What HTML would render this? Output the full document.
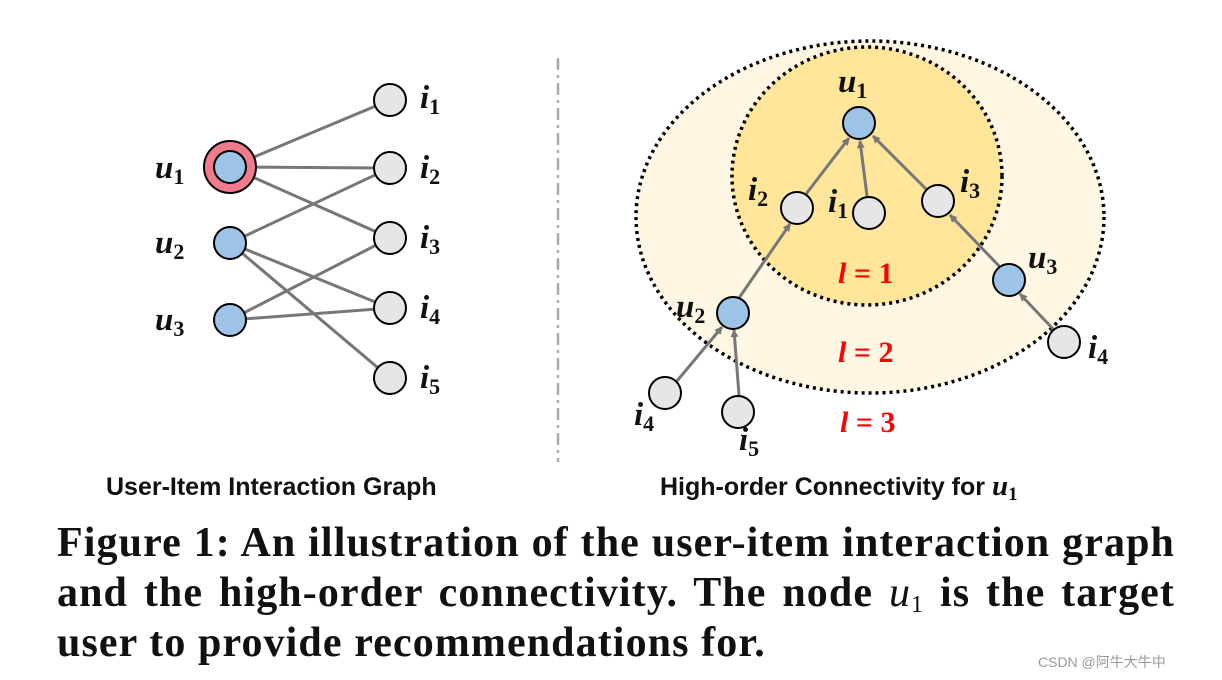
<!DOCTYPE html>
<html><head><meta charset="utf-8"><style>
body{margin:0;background:#fff;width:1222px;height:680px;overflow:hidden;position:relative}
.cap{position:absolute;left:57px;width:1118px;top:518px;font:bold 42px/50px "Liberation Serif",serif;letter-spacing:1.1px;color:#111}
.cap div{text-align:justify;text-align-last:justify;white-space:nowrap;height:50px}
.cap div.l{text-align-last:left}
.wm{position:absolute;left:1038px;top:652px;font:14px "Liberation Sans","Noto Sans CJK SC",sans-serif;color:#999}
</style></head><body>
<svg width="1222" height="520" style="position:absolute;left:0;top:0" font-family="Liberation Serif, serif">
<defs><marker id="a" markerWidth="8" markerHeight="8" refX="7" refY="4" orient="auto" markerUnits="userSpaceOnUse"><path d="M0,0L8,4L0,8z" fill="#777"/></marker></defs>
<g stroke="#777" stroke-width="3">
<line x1="230" y1="167" x2="390" y2="100"/><line x1="230" y1="167" x2="390" y2="168"/><line x1="230" y1="167" x2="390" y2="238"/>
<line x1="230" y1="243" x2="390" y2="168"/><line x1="230" y1="243" x2="390" y2="308"/><line x1="230" y1="243" x2="390" y2="378"/>
<line x1="230" y1="320" x2="390" y2="238"/><line x1="230" y1="320" x2="390" y2="308"/>
</g>
<g stroke="#000" stroke-width="2">
<circle cx="230" cy="167" r="26" fill="#f07b8c"/>
<circle cx="230" cy="167" r="16" fill="#9dc3e6"/><circle cx="230" cy="243" r="16" fill="#9dc3e6"/><circle cx="230" cy="320" r="16" fill="#9dc3e6"/>
<g fill="#e6e6e6"><circle cx="390" cy="100" r="16"/><circle cx="390" cy="168" r="16"/><circle cx="390" cy="238" r="16"/><circle cx="390" cy="308" r="16"/><circle cx="390" cy="378" r="16"/></g>
</g>
<g font-weight="bold" font-style="italic" font-size="33" fill="#111">
<text x="155" y="178">u<tspan font-size="22" font-style="normal" dy="6">1</tspan></text>
<text x="155" y="253">u<tspan font-size="22" font-style="normal" dy="6">2</tspan></text>
<text x="155" y="330">u<tspan font-size="22" font-style="normal" dy="6">3</tspan></text>
<text x="420" y="108">i<tspan font-size="22" font-style="normal" dy="6">1</tspan></text>
<text x="420" y="178">i<tspan font-size="22" font-style="normal" dy="6">2</tspan></text>
<text x="420" y="248">i<tspan font-size="22" font-style="normal" dy="6">3</tspan></text>
<text x="420" y="318">i<tspan font-size="22" font-style="normal" dy="6">4</tspan></text>
<text x="420" y="388">i<tspan font-size="22" font-style="normal" dy="6">5</tspan></text>
</g>
<line x1="558" y1="58" x2="558" y2="462" stroke="#aaa" stroke-width="2.5" stroke-dasharray="12,5,3,5"/>
<ellipse cx="870" cy="217" rx="234" ry="176" fill="#fff7e3" stroke="#000" stroke-width="3.5" stroke-dasharray="3,4"/>
<ellipse cx="867" cy="176" rx="135" ry="129" fill="#ffe69b" stroke="#000" stroke-width="3.5" stroke-dasharray="3,4"/>
<g stroke="#777" stroke-width="3" marker-end="url(#a)">
<line x1="806" y1="194" x2="849" y2="138"/><line x1="867" y1="196" x2="860" y2="141"/><line x1="926" y1="189" x2="873" y2="136"/>
<line x1="739" y1="298" x2="790" y2="224"/><line x1="1000" y1="267" x2="950" y2="215"/>
<line x1="677" y1="381" x2="722" y2="327"/><line x1="739" y1="395" x2="734" y2="330"/><line x1="1054" y1="330" x2="1020" y2="294"/>
</g>
<g stroke="#000" stroke-width="2">
<g fill="#9dc3e6"><circle cx="859" cy="123" r="16"/><circle cx="1009" cy="280" r="16"/><circle cx="733" cy="313" r="16"/></g>
<g fill="#e6e6e6"><circle cx="797" cy="208" r="16"/><circle cx="869" cy="213" r="16"/><circle cx="938" cy="201" r="16"/><circle cx="665" cy="393" r="16"/><circle cx="738" cy="412" r="16"/><circle cx="1064" cy="342" r="16"/></g>
</g>
<g font-weight="bold" font-style="italic" font-size="33" fill="#111">
<text x="838" y="92">u<tspan font-size="22" font-style="normal" dy="6">1</tspan></text>
<text x="748" y="200">i<tspan font-size="22" font-style="normal" dy="6">2</tspan></text>
<text x="828" y="212">i<tspan font-size="22" font-style="normal" dy="6">1</tspan></text>
<text x="960" y="192">i<tspan font-size="22" font-style="normal" dy="6">3</tspan></text>
<text x="1028" y="268">u<tspan font-size="22" font-style="normal" dy="6">3</tspan></text>
<text x="676" y="317">u<tspan font-size="22" font-style="normal" dy="6">2</tspan></text>
<text x="1088" y="358">i<tspan font-size="22" font-style="normal" dy="6">4</tspan></text>
<text x="634" y="425">i<tspan font-size="22" font-style="normal" dy="6">4</tspan></text>
<text x="739" y="450">i<tspan font-size="22" font-style="normal" dy="6">5</tspan></text>
</g>
<g font-weight="bold" font-size="30" fill="#f00">
<text x="838" y="283"><tspan font-style="italic">l</tspan> = 1</text>
<text x="838" y="362"><tspan font-style="italic">l</tspan> = 2</text>
<text x="840" y="432"><tspan font-style="italic">l</tspan> = 3</text>
</g>
<g font-family="Liberation Sans, sans-serif" font-weight="bold" font-size="25" fill="#111">
<text x="106" y="495">User-Item Interaction Graph</text>
<text x="660" y="495">High-order Connectivity for <tspan font-family="Liberation Serif, serif" font-style="italic" font-size="29">u</tspan><tspan font-family="Liberation Serif, serif" font-size="19" dy="5">1</tspan></text>
</g>
</svg>
<div class="cap">
<div>Figure 1: An illustration of the user-item interaction graph</div>
<div>and the high-order connectivity. The node <span style="font-weight:normal;font-style:italic">u</span><span style="font-weight:normal;font-size:24px;position:relative;top:6px">1</span> is the target</div>
<div class="l">user to provide recommendations for.</div>
</div>
<div class="wm">CSDN @阿牛大牛中</div>
</body></html>
